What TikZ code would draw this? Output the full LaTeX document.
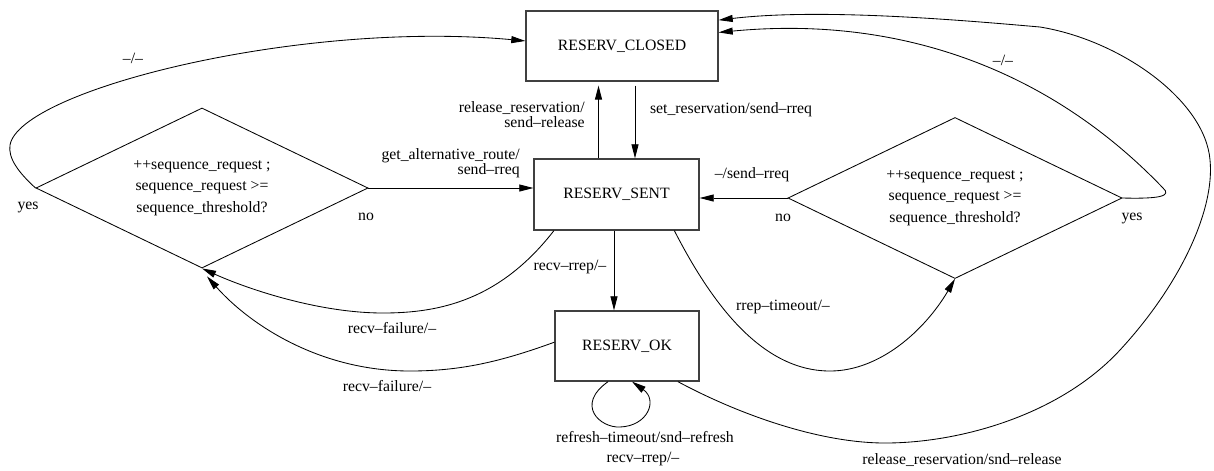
\documentclass[tikz,border=0pt]{standalone}
\usepackage{fontspec}
\setmainfont{Liberation Serif}
\usetikzlibrary{arrows.meta,shapes.geometric}

\begin{document}
\begin{tikzpicture}[x=0.025cm, y=-0.025cm,
  statebox/.style={draw=black!75, line width=0.9pt, rectangle, inner sep=0,
    font=\fontsize{11.2}{13.4}\selectfont},
  decision/.style={draw, line width=0.6pt, diamond, aspect=2.075, inner sep=0,
    align=center, font=\fontsize{11.2}{15.2}\selectfont},
  trans/.style={line width=0.6pt, -{Triangle[length=10pt,width=5pt]}},
  lbl/.style={inner sep=0, font=\fontsize{11.2}{10.8}\selectfont}]
\useasboundingbox (0,0) rectangle (1214,470);

% states
\node[statebox, minimum width=4.8cm, minimum height=1.75cm] (closed) at (622,46) {RESERV\_CLOSED};
\node[statebox, minimum width=4.125cm, minimum height=1.775cm] (sent) at (616.5,194.5) {RESERV\_SENT};
\node[statebox, minimum width=3.6cm, minimum height=1.75cm] (ok) at (627,346) {RESERV\_OK};

% threshold checks
\node[decision, minimum width=8.3cm, minimum height=4cm] (lchk) at (202,188)
  {++sequence\_request ;\\ sequence\_request >=\\ sequence\_threshold?};
\node[decision, minimum width=8.35cm, minimum height=4.025cm] (rchk) at (955,198)
  {++sequence\_request ;\\ sequence\_request >=\\ sequence\_threshold?};

% straight transitions
\coordinate (down) at ([shift={(13,4)}]closed.south);
\draw[trans] (down) -- (down |- sent.north);
\coordinate (up) at ([shift={(-18,0)}]sent.north);
\draw[trans, shorten >=2.8pt] (up) -- (up |- closed.south);
\coordinate (mid) at ([shift={(-2.5,0)}]sent.south);
\draw[trans] (mid) -- (mid |- ok.north);
\draw[trans] (lchk.east) -- (lchk.east -| sent.west);
\draw[trans] (rchk.west) -- (rchk.west -| sent.east);

% curved transitions
\draw[trans] (lchk.west) .. controls (18,172) and (8,158) .. (10,145)
  .. controls (20,90) and (300,20) .. (closed.177);
\draw[trans] (rchk.east) .. controls (1160,199) and (1172,196) .. (1163,188)
  .. controls (1050,70) and (900,15) .. (closed.8);
\draw[trans] (ok.-35) .. controls (740,415) and (820,443) .. (885,443)
  .. controls (960,443) and (1060,415) .. (1120,350)
  .. controls (1180,285) and (1215,210) .. (1210,160)
  .. controls (1205,100) and (1120,40) .. (1040,27)
  .. controls (960,20) and (820,8) .. (closed.15);
\draw[trans] (sent.210) .. controls (500,300) and (440,313) .. (383,313)
  .. controls (320,313) and (250,290) .. (lchk.south);
\draw[trans] (ok.177) .. controls (500,362) and (460,371) .. (410,371)
  .. controls (320,371) and (250,325) .. ([shift={(5,8)}]lchk.south);
\draw[trans] (sent.-32) .. controls (710,300) and (760,371) .. (830,371)
  .. controls (880,371) and (925,330) .. (rchk.south);
\draw[trans] (ok.-118) .. controls (575,405) and (600,428) .. (620,427)
  .. controls (648,426) and (658,400) .. (ok.-82);

% labels
\node[lbl] (l-set) at (731,110) {set\_reservation/send--rreq};
\node[lbl, align=right, anchor=east] (l-rel) at (585,115) {release\_reservation/\\send--release};
\node[lbl, align=right, anchor=east] (l-alt) at (520,163) {get\_alternative\_route/\\send--rreq};
\node[lbl] (l-resend) at (752,175) {--/send--rreq};
\node[lbl] (l-nol) at (366,217) {no};
\node[lbl] (l-nor) at (783,218) {no};
\node[lbl] (l-yesl) at (28,207) {yes};
\node[lbl] (l-yesr) at (1132,218) {yes};
\node[lbl] (l-resetl) at (133,58) {--/--};
\node[lbl] (l-resetr) at (1003,60) {--/--};
\node[lbl] (l-fail1) at (392,328) {recv--failure/--};
\node[lbl] (l-fail2) at (387,386) {recv--failure/--};
\node[lbl] (l-rrep) at (570,267) {recv--rrep/--};
\node[lbl] (l-tmo) at (783,307) {rrep--timeout/--};
\node[lbl] (l-refresh) at (645,437) {refresh--timeout/snd--refresh};
\node[lbl] (l-rrep2) at (643,459) {recv--rrep/--};
\node[lbl] (l-release) at (962,460) {release\_reservation/snd--release};
\end{tikzpicture}
\end{document}
